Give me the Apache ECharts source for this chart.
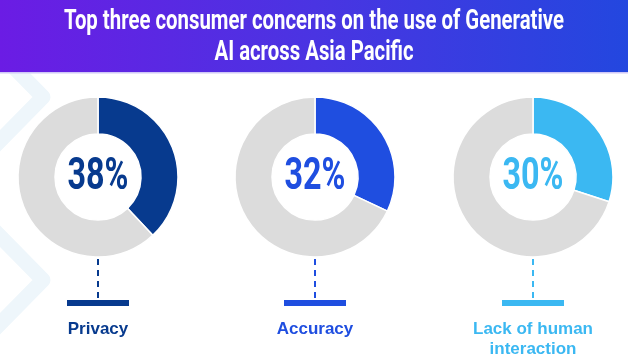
<!DOCTYPE html>
<html>
<head>
<meta charset="utf-8">
<script src="https://cdn.jsdelivr.net/npm/echarts@6/dist/echarts.min.js"></script>
<style>
  html, body { margin: 0; padding: 0; background: #ffffff; }
  #chart { width: 628px; height: 361px; }
</style>
</head>
<body>
<div id="chart"></div>
<script>
// Survey results: share of consumers naming each concern
const titleLines = ['Top three consumer concerns on the use of Generative', 'AI across Asia Pacific'];
const categories = ['Privacy', 'Accuracy', 'Lack of human\ninteraction'];
const shares = [38, 32, 30];

// Styling
const accentColors = ['#073a8e', '#1f4ee0', '#3bb8f2'];
const restColor = '#dcdcdc';
const centersX = [98, 315, 533];
const centerY = 177;
const W = 628, H = 361;

const chart = echarts.init(document.getElementById('chart'), null, { renderer: 'canvas' });

// Measure text so condensed headline type can be approximated by horizontal scaling
const measureCtx = document.createElement('canvas').getContext('2d');
function widthOf(text, font) {
  measureCtx.font = font;
  return measureCtx.measureText(text).width;
}

const titleFont = 'bold 27px Roboto';
const titleScale = 500 / widthOf(titleLines[0], titleFont);
const pctFont = 'bold 44px Roboto';

const graphics = [];

// Faint chevrons in the background
[[97], [280]].forEach(([ay]) => {
  graphics.push({
    type: 'polyline', z: 0, silent: true,
    shape: { points: [[-12, ay - 56], [43, ay], [-12, ay + 56]] },
    style: { stroke: '#eef6fb', lineWidth: 15, lineJoin: 'round', lineCap: 'round', fill: null }
  });
});

// Header band
graphics.push({
  type: 'rect', z: 1, silent: true,
  shape: { x: 0, y: 0, width: W, height: 72 },
  style: {
    fill: new echarts.graphic.LinearGradient(0, 0, 1, 0, [
      { offset: 0, color: '#6b1ce4' },
      { offset: 0.5, color: '#4a34e2' },
      { offset: 1, color: '#2347df' }
    ])
  }
});
graphics.push({
  type: 'rect', z: 1, silent: true,
  shape: { x: 0, y: 72, width: W, height: 1.5 },
  style: { fill: '#cfc8f7' }
});
titleLines.forEach((line, i) => {
  graphics.push({
    type: 'text', z: 2, silent: true,
    x: W / 2, y: 22 + i * 31, scaleX: titleScale,
    style: { text: line, font: titleFont, fill: '#ffffff', align: 'center', verticalAlign: 'middle' }
  });
});

const series = [];
shares.forEach((v, i) => {
  const cx = centersX[i];
  const color = accentColors[i];
  series.push({
    type: 'pie',
    center: [cx, centerY],
    radius: [43, 80],
    startAngle: 90,
    clockwise: true,
    silent: true,
    animation: false,
    label: { show: false },
    labelLine: { show: false },
    itemStyle: { borderColor: '#ffffff', borderWidth: 1.5 },
    data: [
      { name: categories[i], value: v, itemStyle: { color: color } },
      { name: 'other', value: 100 - v, itemStyle: { color: restColor } }
    ]
  });

  // Percentage in the hole
  const pctText = v + '%';
  graphics.push({
    type: 'text', z: 5, silent: true,
    x: cx, y: centerY + 1, scaleX: 61 / widthOf(pctText, pctFont),
    style: { text: pctText, font: pctFont, fill: color, align: 'center', verticalAlign: 'middle' }
  });

  // Dashed leader and base bar
  graphics.push({
    type: 'line', z: 3, silent: true,
    shape: { x1: cx, y1: 259, x2: cx, y2: 301 },
    style: { stroke: color, lineWidth: 2, lineDash: [6, 5] }
  });
  graphics.push({
    type: 'rect', z: 3, silent: true,
    shape: { x: cx - 31, y: 300, width: 62, height: 6 },
    style: { fill: color }
  });

  // Category label
  graphics.push({
    type: 'text', z: 3, silent: true,
    x: cx, y: 319,
    style: {
      text: categories[i], font: 'bold 17px "Liberation Sans", Arial, sans-serif',
      fill: color, align: 'center', verticalAlign: 'top', lineHeight: 20
    }
  });
});

chart.setOption({
  backgroundColor: '#ffffff',
  animation: false,
  graphic: { elements: graphics },
  series: series
});
</script>
</body>
</html>
